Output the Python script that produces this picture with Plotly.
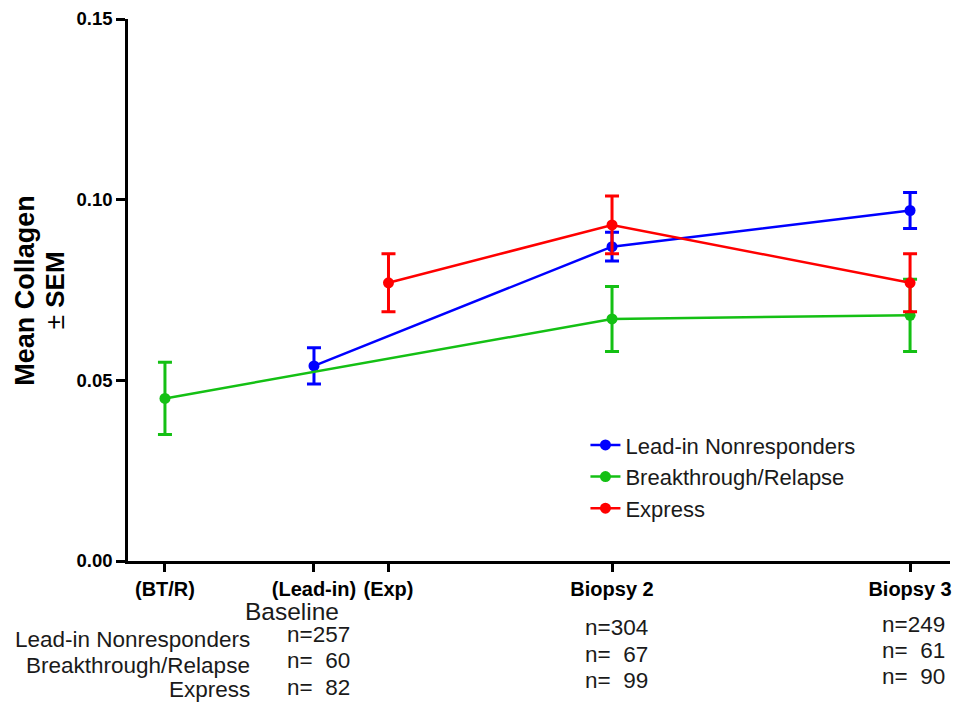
import plotly.graph_objects as go

# ---- data ----
tick_pos = [0, 1, 1.5, 3, 5]
tick_labels = ["(BT/R)", "(Lead-in)", "(Exp)", "Biopsy 2", "Biopsy 3"]

leadin_x = [1, 3, 5]
leadin_y = [0.054, 0.087, 0.097]
leadin_sem = [0.005, 0.004, 0.005]

bt_x = [0, 3, 5]
bt_y = [0.045, 0.067, 0.068]
bt_sem = [0.010, 0.009, 0.010]

exp_x = [1.5, 3, 5]
exp_y = [0.077, 0.093, 0.077]
exp_sem = [0.008, 0.008, 0.008]

series_names = ["Lead-in Nonresponders", "Breakthrough/Relapse", "Express"]
n_baseline = [257, 60, 82]
n_biopsy2 = [304, 67, 99]
n_biopsy3 = [249, 61, 90]

y_ticks = [0.00, 0.05, 0.10, 0.15]

FONT = "Arial, 'Liberation Sans', sans-serif"
colors = ["#0000FF", "#14C014", "#FF0000"]

fig = go.Figure()
for name, xs, ys, es, c in zip(series_names,
                               [leadin_x, bt_x, exp_x],
                               [leadin_y, bt_y, exp_y],
                               [leadin_sem, bt_sem, exp_sem],
                               colors):
    fig.add_trace(go.Scatter(
        x=xs, y=ys, name=name, mode="lines+markers",
        line=dict(color=c, width=2.5),
        marker=dict(color=c, size=11),
        error_y=dict(type="data", array=es, visible=True,
                     color=c, thickness=3, width=7),
    ))

def n_text(v):
    s = str(v)
    pad = "\u00a0" * (2 * (3 - len(s)))
    return "n=" + pad + s

annotations = []
# y-axis title (two rotated lines)
annotations.append(dict(
    xref="paper", yref="paper", x=-0.1255, y=0.5,
    text="<b>Mean Collagen</b>", textangle=-90,
    showarrow=False, xanchor="center", yanchor="middle",
    font=dict(family=FONT, size=27, color="black"),
))
annotations.append(dict(
    xref="paper", yref="paper", x=-0.0885, y=0.5,
    text="±<b> SEM</b>", textangle=-90,
    showarrow=False, xanchor="center", yanchor="middle",
    font=dict(family=FONT, size=26, color="black"),
))
# Baseline heading
annotations.append(dict(
    xref="x", yref="paper", x=0.852, y=-0.0925, text="Baseline",
    showarrow=False, xanchor="center", yanchor="middle",
    font=dict(family=FONT, size=24.5, color="#1a1a1a"),
))
row_label_y = [-0.144, -0.1937, -0.238]
for name, yy in zip(series_names, row_label_y):
    annotations.append(dict(
        xref="x", yref="paper", x=0.584, y=yy, text=name,
        showarrow=False, xanchor="right", yanchor="middle",
        font=dict(family=FONT, size=22.5, color="#1a1a1a"),
    ))
columns = [(1.03, -0.1365, n_baseline), (3.03, -0.1236, n_biopsy2), (5.02, -0.118, n_biopsy3)]
for cx, y0, vals in columns:
    for i, v in enumerate(vals):
        annotations.append(dict(
            xref="x", yref="paper", x=cx, y=y0 - i * 0.048, text=n_text(v),
            showarrow=False, xanchor="center", yanchor="middle",
            font=dict(family=FONT, size=22.5, color="#1a1a1a"),
        ))

# page body has an 8px default margin; figure sized to fit the window
fig.update_layout(
    width=953, height=697,
    margin=dict(l=120, r=11, t=11, b=144, autoexpand=False),
    paper_bgcolor="white", plot_bgcolor="white",
    font=dict(family=FONT, color="black"),
    showlegend=True,
    legend=dict(x=0.5565, y=0.2525, xanchor="left", yanchor="top",
                font=dict(family=FONT, size=22, color="#1a1a1a"),
                bgcolor="rgba(0,0,0,0)", tracegroupgap=0),
    annotations=annotations,
    xaxis=dict(range=[-0.248, 5.268], tickvals=tick_pos,
               ticktext=["<b>%s</b>" % t for t in tick_labels],
               showline=True, linecolor="black", linewidth=2.5,
               ticks="outside", ticklen=8, tickwidth=2.5, tickcolor="black",
               showgrid=False, zeroline=False, automargin=False,
               ticklabeloverflow="allow",
               tickfont=dict(family=FONT, size=20, color="black")),
    yaxis=dict(range=[0, 0.15], tickvals=y_ticks,
               ticktext=["<b>%.2f</b>" % v for v in y_ticks],
               showline=True, linecolor="black", linewidth=2.5,
               ticks="outside", ticklen=9, tickwidth=2.5, tickcolor="black",
               showgrid=False, zeroline=False, automargin=False,
               ticklabeloverflow="allow",
               tickfont=dict(family=FONT, size=18.5, color="black")),
)

fig.write_html("out.html")
